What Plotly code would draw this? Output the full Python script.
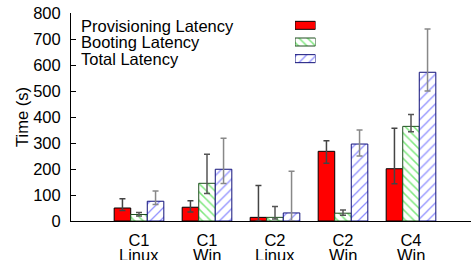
import plotly.graph_objects as go

# ---- data ----
cat_top = ["C1", "C1", "C2", "C2", "C4"]
cat_bottom = ["Linux", "Win", "Linux", "Win", "Win"]
series_names = ["Provisioning Latency", "Booting Latency", "Total Latency"]

prov = [50, 53, 14, 268, 201]
prov_hi = [86, 78, 137, 309, 357]
prov_lo = [40, 35, 0, 222, 143]

boot = [25, 145, 14, 30, 364]
boot_hi = [33, 257, 56, 42, 410]
boot_lo = [19, 106, 8, 22, 343]

total = [76, 199, 31, 296, 572]
total_hi = [115, 318, 191, 350, 738]
total_lo = [63, 144, 0, 250, 500]

y_ticks = [0, 100, 200, 300, 400, 500, 600, 700, 800]

FONT = "Liberation Sans, Arial, Helvetica, sans-serif"
FS = 16.5

xs = list(range(len(cat_top)))

styles = [
    dict(color="#ff0000", line="#000000", pattern=None, err="#444444"),
    dict(color="#ffffff", line="#1f4f1f", pattern=dict(shape="\\", fgcolor="#00d000", bgcolor="#ffffff", size=6, solidity=0.25), err="#555555"),
    dict(color="#ffffff", line="#10107a", pattern=dict(shape="/", fgcolor="#2020ff", bgcolor="#ffffff", size=7, solidity=0.18), err="#888888"),
]
vals = [prov, boot, total]
his = [prov_hi, boot_hi, total_hi]
los = [prov_lo, boot_lo, total_lo]

fig = go.Figure()
for name, v, hi, lo, st in zip(series_names, vals, his, los, styles):
    marker = dict(color=st["color"], line=dict(color=st["line"], width=1))
    if st["pattern"]:
        marker["pattern"] = st["pattern"]
    fig.add_trace(go.Bar(
        x=xs, y=v, name=name, marker=marker, showlegend=False,
        error_y=dict(type="data", symmetric=False,
                     array=[h - a for h, a in zip(hi, v)],
                     arrayminus=[a - l for a, l in zip(v, lo)],
                     color=st["err"], thickness=1.5, width=3),
    ))

# legend keys as small horizontal bars in an inset axis
for i, (name, st) in enumerate(zip(series_names, styles)):
    marker = dict(color=st["color"], line=dict(color=st["line"], width=1))
    if st["pattern"]:
        marker["pattern"] = st["pattern"]
    fig.add_trace(go.Bar(
        x=[1], y=[i], orientation="h", xaxis="x2", yaxis="y2",
        marker=marker, width=0.48, showlegend=False, hoverinfo="skip",
    ))

W, H = 471, 260
plot_left, plot_right, plot_top, plot_bottom = 71, 471, 13, 221
pw = plot_right - plot_left
ph = plot_bottom - plot_top

def px_x(sx):
    return (sx - plot_left) / pw

def px_y(sy):
    return (plot_bottom - sy) / ph

annotations = []
for i, name in enumerate(series_names):
    annotations.append(dict(
        text=name, xref="paper", yref="paper", x=px_x(79), y=px_y(25.5 + 16.7 * i),
        xanchor="left", yanchor="middle", showarrow=False,
        font=dict(family=FONT, size=FS, color="#000000"),
    ))
for x, t in zip(xs, cat_bottom):
    annotations.append(dict(
        text=t, xref="x", yref="paper", x=x, y=px_y(244),
        xanchor="center", yanchor="top", showarrow=False,
        font=dict(family=FONT, size=FS, color="#000000"),
    ))

fig.update_layout(
    width=W, height=H,
    margin=dict(l=plot_left, r=W - plot_right, t=plot_top, b=H - plot_bottom, autoexpand=False),
    paper_bgcolor="white", plot_bgcolor="white",
    barmode="group", bargap=0.27, bargroupgap=0,
    font=dict(family=FONT, size=FS, color="#000000"),
    xaxis=dict(
        range=[-1, (pw / 68) - 1], tickvals=xs, ticktext=cat_top,
        showline=True, linecolor="black", linewidth=1, ticks="",
        showgrid=False, zeroline=False, ticklabelstandoff=4, automargin=False,
        tickfont=dict(family=FONT, size=FS),
    ),
    yaxis=dict(
        range=[0, 800], tickvals=y_ticks, showline=True, linecolor="black",
        linewidth=1, ticks="inside", ticklen=5, tickcolor="black",
        showgrid=False, zeroline=False, ticklabelstandoff=6, automargin=False,
        title=dict(text="Time (s)", standoff=0, font=dict(family=FONT, size=FS)),
        tickfont=dict(family=FONT, size=FS),
    ),
    xaxis2=dict(domain=[px_x(295), px_x(315.5)], range=[0, 1], visible=False, fixedrange=True),
    yaxis2=dict(domain=[px_y(67), px_y(17)], range=[2.5, -0.5], visible=False, fixedrange=True),
    annotations=annotations,
    showlegend=False,
)

fig.write_html("out.html", config={"displayModeBar": False},
               post_script="document.body.style.margin='0';")
